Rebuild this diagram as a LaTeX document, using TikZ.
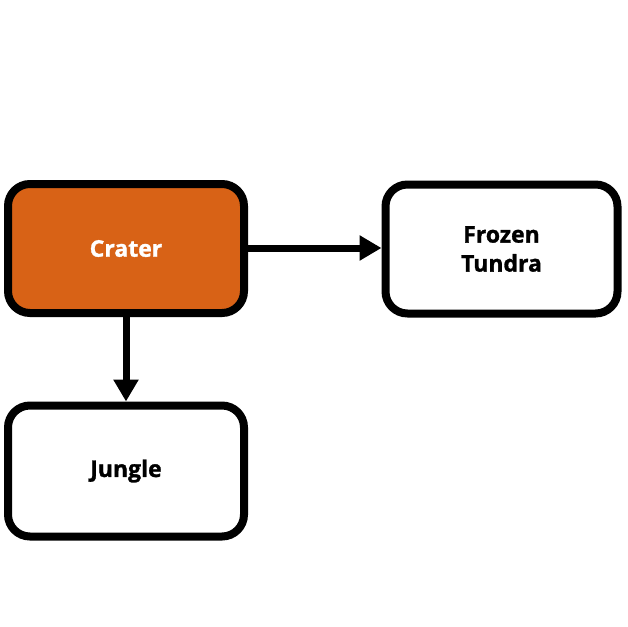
\documentclass[tikz,border=0pt]{standalone}
\usepackage{fontspec}
\setmainfont{Open Sans}
\newfontfamily\heavyfont{Open Sans}[BoldFeatures={FakeBold=1.3}]
\usetikzlibrary{arrows.meta}
\definecolor{craterorange}{RGB}{216,98,22}
\tikzset{
  place/.style={draw=black, line width=8pt, rounded corners=22pt, fill=white,
    minimum width=236pt, minimum height=129pt, align=center,
    font=\heavyfont\bfseries\fontsize{23pt}{29pt}\selectfont, inner sep=0pt},
  link/.style={line width=7pt, -{Triangle[length=22pt,width=24pt]}}
}
\begin{document}
\begin{tikzpicture}[x=1pt,y=-1pt]
\useasboundingbox (0,0) rectangle (628,626);
\node[place, fill=craterorange, text=white] (crater) at (126,248.5) {Crater};
\node[place, minimum width=232pt] (tundra) at (501.5,249) {Frozen\\Tundra};
\node[place, minimum height=131pt] (jungle) at (126,471) {Jungle};
\draw[link] (crater.east |- 0,248) -- (tundra.west |- 0,248);
\draw[link] (crater.south) -- (jungle.north);
\end{tikzpicture}
\end{document}
